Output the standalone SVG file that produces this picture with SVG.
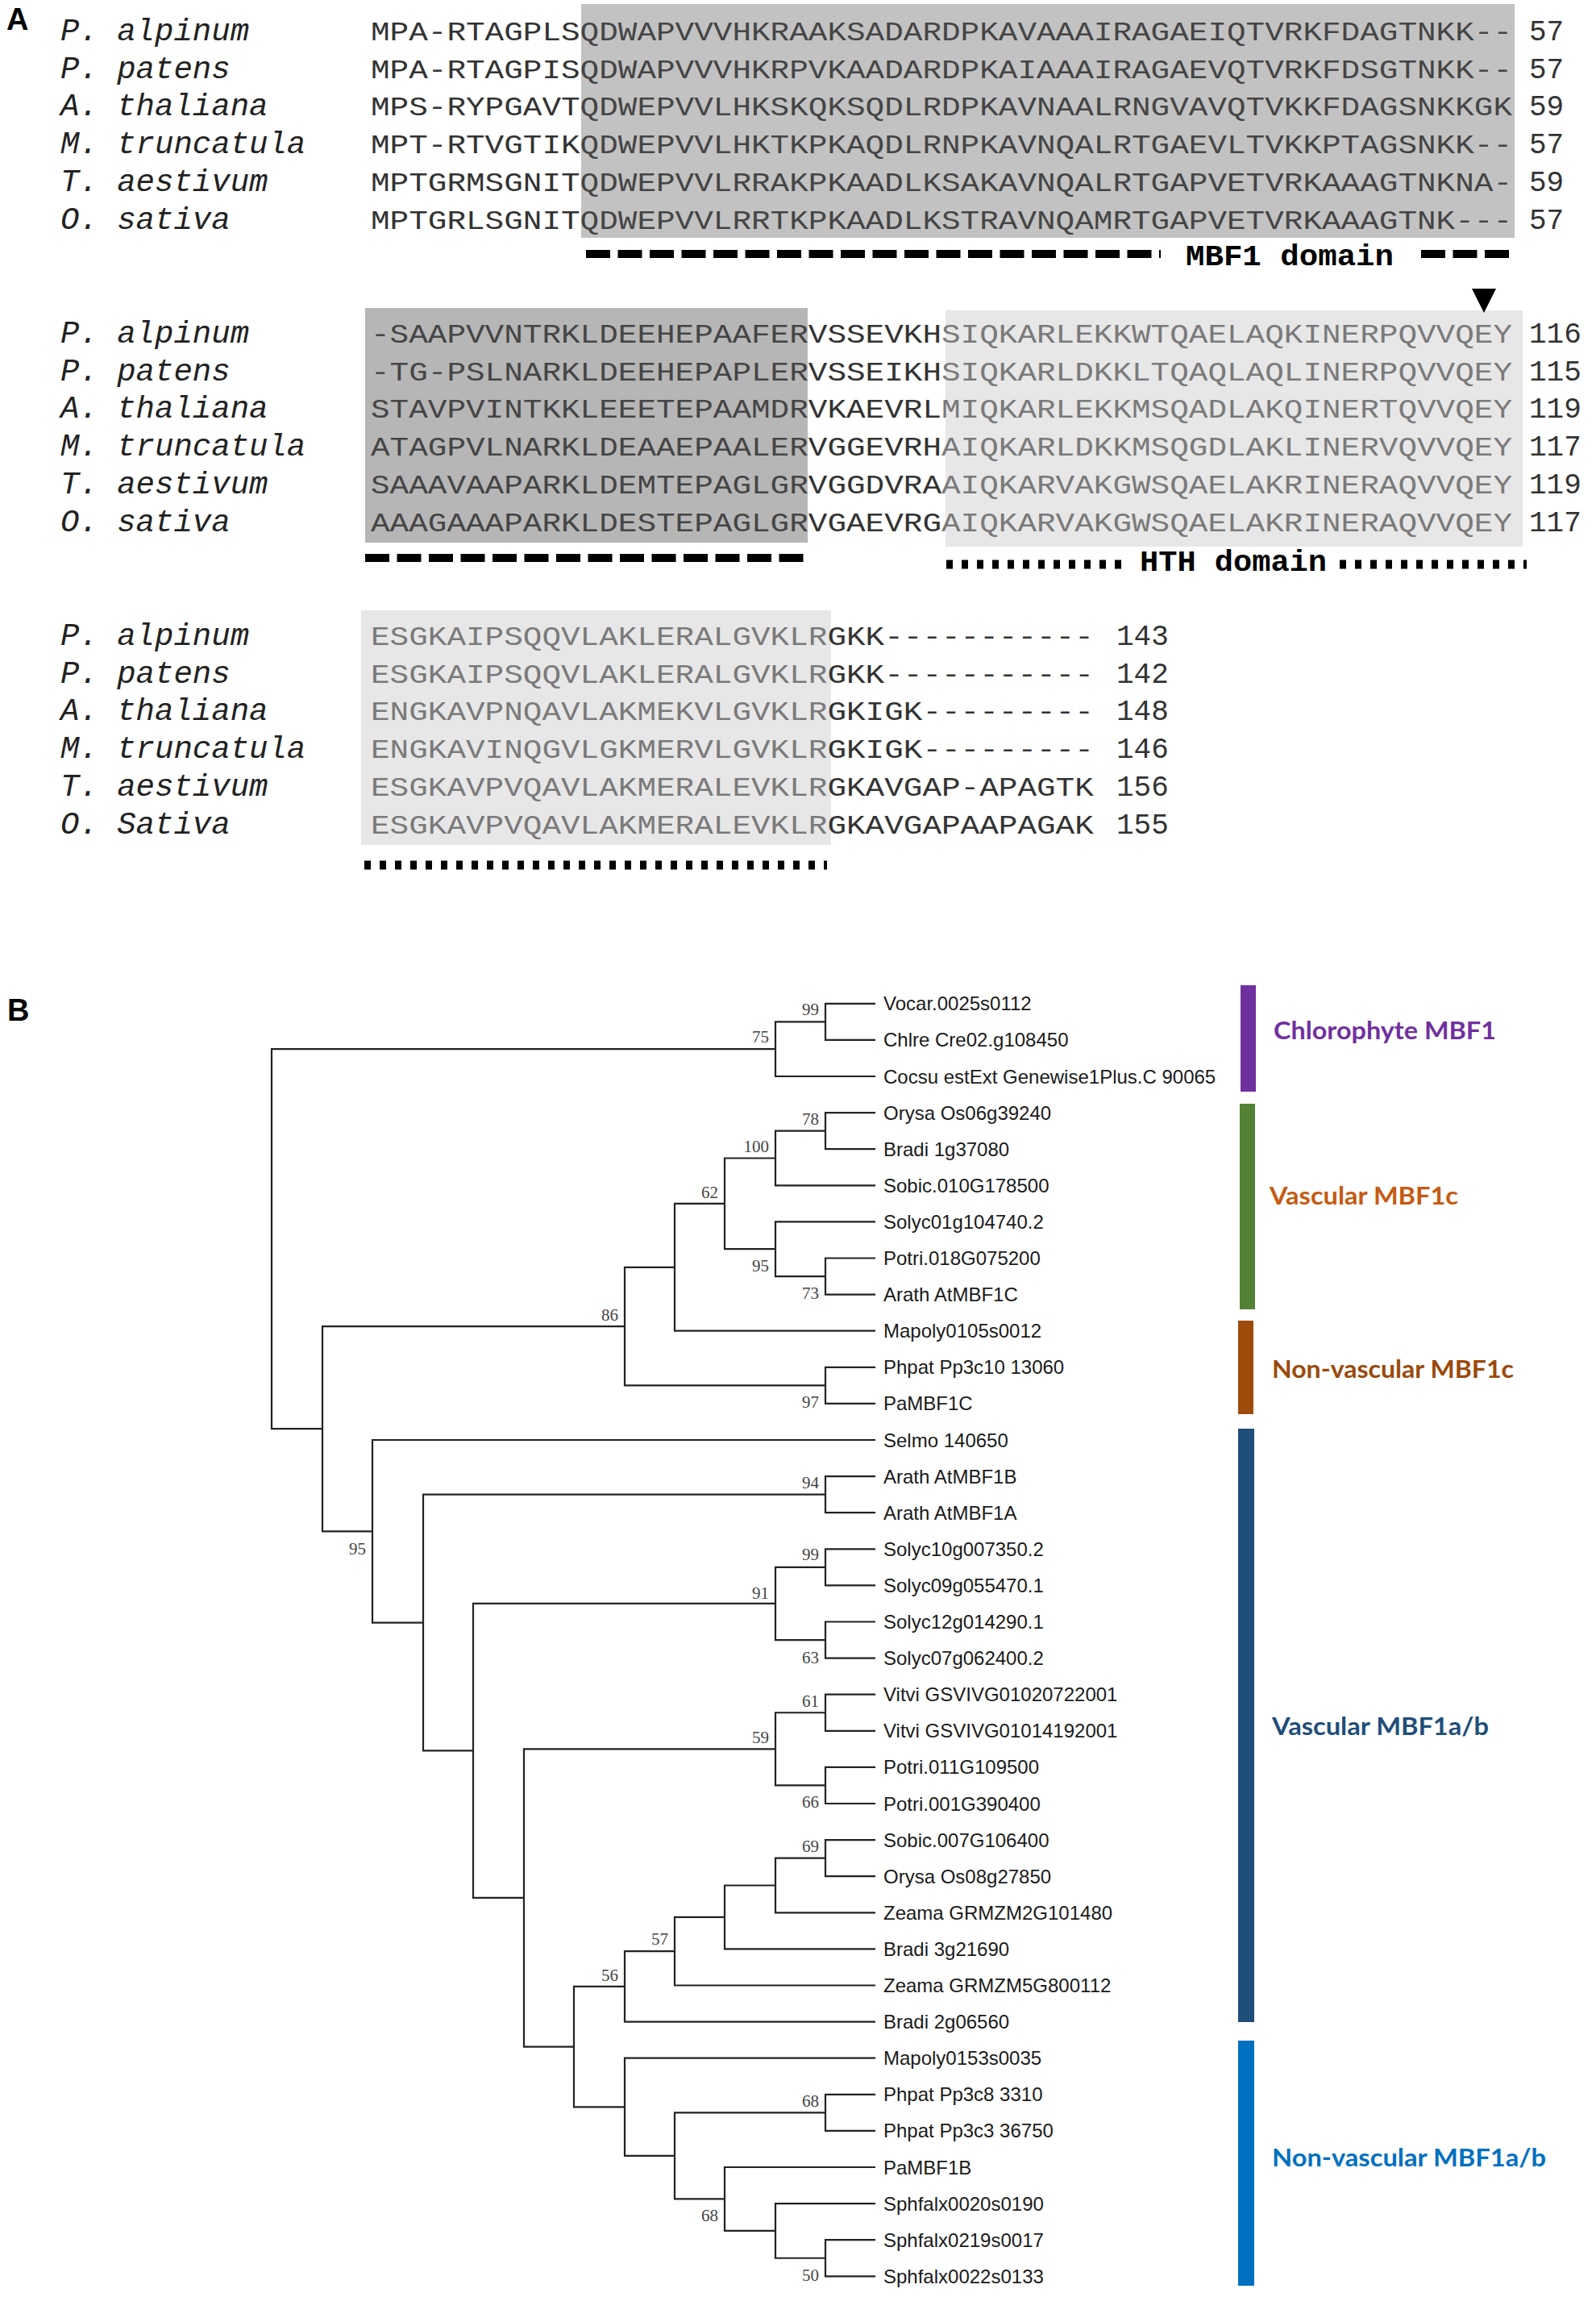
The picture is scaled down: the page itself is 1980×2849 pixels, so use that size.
<svg xmlns="http://www.w3.org/2000/svg" width="1980" height="2849" viewBox="0 0 1980 2849">
<style>
.lab{font-family:'Liberation Sans',Arial,sans-serif;font-weight:bold;font-size:38px;fill:#000}
.sp{font-family:'Liberation Mono','Courier New',monospace;font-style:italic;font-size:39px;fill:#222}
.seq{font-family:'Liberation Mono','Courier New',monospace;font-size:34px;fill:#333}
.num{font-family:'Liberation Mono','Courier New',monospace;font-size:36px;fill:#333}
.dom{font-family:'Liberation Mono','Courier New',monospace;font-weight:bold;font-size:36px;fill:#000}
.k{fill:#333}.m{fill:#454545}.lt{fill:#7a7a7a}
.thick{stroke:#000;stroke-width:10;stroke-dasharray:30 9.5;fill:none}
.dot{stroke:#000;stroke-width:11;stroke-dasharray:8 11;fill:none}
.leaf{font-family:'Liberation Sans',Arial,sans-serif;font-size:24px;fill:#1a1a1a}
.bs{font-family:'Liberation Serif','Times New Roman',serif;font-size:21px;fill:#444;text-anchor:end}
.clade{font-family:Lato,'Open Sans',sans-serif;font-weight:bold;font-size:30px}
.br{fill:none;stroke:#222;stroke-width:2.2}
</style>
<rect x="0" y="0" width="1980" height="2849" fill="#fff"/>

<g id="panelA">
<text class="lab" x="8" y="37">A</text>
<rect x="721" y="5" width="1158" height="290" fill="#c2c2c2"/>
<rect x="453" y="382" width="549" height="291" fill="#b6b6b6"/>
<rect x="1173" y="385" width="716" height="293" fill="#e7e7e7"/>
<rect x="448" y="757" width="583" height="291" fill="#e7e7e7"/>

<g id="block1">
<text class="sp" x="75" y="50">P. alpinum</text>
<text class="sp" x="75" y="96.7">P. patens</text>
<text class="sp" x="75" y="143.4">A. thaliana</text>
<text class="sp" x="75" y="190.1">M. truncatula</text>
<text class="sp" x="75" y="236.8">T. aestivum</text>
<text class="sp" x="75" y="283.5">O. sativa</text>
<text class="seq" x="460" y="50" textLength="1416" lengthAdjust="spacingAndGlyphs"><tspan class="k">MPA-RTAGPLS</tspan><tspan class="m">QDWAPVVVHKRAAKSADARDPKAVAAAIRAGAEIQTVRKFDAGTNKK--</tspan></text>
<text class="seq" x="460" y="96.7" textLength="1416" lengthAdjust="spacingAndGlyphs"><tspan class="k">MPA-RTAGPIS</tspan><tspan class="m">QDWAPVVVHKRPVKAADARDPKAIAAAIRAGAEVQTVRKFDSGTNKK--</tspan></text>
<text class="seq" x="460" y="143.4" textLength="1416" lengthAdjust="spacingAndGlyphs"><tspan class="k">MPS-RYPGAVT</tspan><tspan class="m">QDWEPVVLHKSKQKSQDLRDPKAVNAALRNGVAVQTVKKFDAGSNKKGK</tspan></text>
<text class="seq" x="460" y="190.1" textLength="1416" lengthAdjust="spacingAndGlyphs"><tspan class="k">MPT-RTVGTIK</tspan><tspan class="m">QDWEPVVLHKTKPKAQDLRNPKAVNQALRTGAEVLTVKKPTAGSNKK--</tspan></text>
<text class="seq" x="460" y="236.8" textLength="1416" lengthAdjust="spacingAndGlyphs"><tspan class="k">MPTGRMSGNIT</tspan><tspan class="m">QDWEPVVLRRAKPKAADLKSAKAVNQALRTGAPVETVRKAAAGTNKNA-</tspan></text>
<text class="seq" x="460" y="283.5" textLength="1416" lengthAdjust="spacingAndGlyphs"><tspan class="k">MPTGRLSGNIT</tspan><tspan class="m">QDWEPVVLRRTKPKAADLKSTRAVNQAMRTGAPVETVRKAAAGTNK---</tspan></text>
<text class="num" x="1897" y="50">57</text>
<text class="num" x="1897" y="96.7">57</text>
<text class="num" x="1897" y="143.4">59</text>
<text class="num" x="1897" y="190.1">57</text>
<text class="num" x="1897" y="236.8">59</text>
<text class="num" x="1897" y="283.5">57</text>
<line class="thick" x1="727" y1="315" x2="1440" y2="315"/>
<text class="dom" x="1471" y="329" textLength="258" lengthAdjust="spacingAndGlyphs">MBF1 domain</text>
<line class="thick" x1="1763" y1="315" x2="1875" y2="315"/>
</g>

<g id="block2">
<polygon points="1826,358 1856,358 1841,388" fill="#000"/>
<text class="sp" x="75" y="425">P. alpinum</text>
<text class="sp" x="75" y="471.7">P. patens</text>
<text class="sp" x="75" y="518.4">A. thaliana</text>
<text class="sp" x="75" y="565.1">M. truncatula</text>
<text class="sp" x="75" y="611.8">T. aestivum</text>
<text class="sp" x="75" y="658.5">O. sativa</text>
<text class="seq" x="460" y="425" textLength="1416" lengthAdjust="spacingAndGlyphs"><tspan class="m">-SAAPVVNTRKLDEEHEPAAFER</tspan><tspan class="k">VSSEVKH</tspan><tspan class="lt">SIQKARLEKKWTQAELAQKINERPQVVQEY</tspan></text>
<text class="seq" x="460" y="471.7" textLength="1416" lengthAdjust="spacingAndGlyphs"><tspan class="m">-TG-PSLNARKLDEEHEPAPLER</tspan><tspan class="k">VSSEIKH</tspan><tspan class="lt">SIQKARLDKKLTQAQLAQLINERPQVVQEY</tspan></text>
<text class="seq" x="460" y="518.4" textLength="1416" lengthAdjust="spacingAndGlyphs"><tspan class="m">STAVPVINTKKLEEETEPAAMDR</tspan><tspan class="k">VKAEVRL</tspan><tspan class="lt">MIQKARLEKKMSQADLAKQINERTQVVQEY</tspan></text>
<text class="seq" x="460" y="565.1" textLength="1416" lengthAdjust="spacingAndGlyphs"><tspan class="m">ATAGPVLNARKLDEAAEPAALER</tspan><tspan class="k">VGGEVRH</tspan><tspan class="lt">AIQKARLDKKMSQGDLAKLINERVQVVQEY</tspan></text>
<text class="seq" x="460" y="611.8" textLength="1416" lengthAdjust="spacingAndGlyphs"><tspan class="m">SAAAVAAPARKLDEMTEPAGLGR</tspan><tspan class="k">VGGDVRA</tspan><tspan class="lt">AIQKARVAKGWSQAELAKRINERAQVVQEY</tspan></text>
<text class="seq" x="460" y="658.5" textLength="1416" lengthAdjust="spacingAndGlyphs"><tspan class="m">AAAGAAAPARKLDESTEPAGLGR</tspan><tspan class="k">VGAEVRG</tspan><tspan class="lt">AIQKARVAKGWSQAELAKRINERAQVVQEY</tspan></text>
<text class="num" x="1897" y="425">116</text>
<text class="num" x="1897" y="471.7">115</text>
<text class="num" x="1897" y="518.4">119</text>
<text class="num" x="1897" y="565.1">117</text>
<text class="num" x="1897" y="611.8">119</text>
<text class="num" x="1897" y="658.5">117</text>
<line class="thick" x1="453" y1="692" x2="1004" y2="692"/>
<line class="dot" x1="1174" y1="700" x2="1392" y2="700"/>
<text class="dom" x="1414" y="708" textLength="232" lengthAdjust="spacingAndGlyphs">HTH domain</text>
<line class="dot" x1="1662" y1="700" x2="1894" y2="700"/>
</g>

<g id="block3">
<text class="sp" x="75" y="800">P. alpinum</text>
<text class="sp" x="75" y="846.7">P. patens</text>
<text class="sp" x="75" y="893.4">A. thaliana</text>
<text class="sp" x="75" y="940.1">M. truncatula</text>
<text class="sp" x="75" y="986.8">T. aestivum</text>
<text class="sp" x="75" y="1033.5">O. Sativa</text>
<text class="seq" x="460" y="800" textLength="896.8" lengthAdjust="spacingAndGlyphs"><tspan class="lt">ESGKAIPSQQVLAKLERALGVKLR</tspan><tspan class="k">GKK-----------</tspan></text>
<text class="seq" x="460" y="846.7" textLength="896.8" lengthAdjust="spacingAndGlyphs"><tspan class="lt">ESGKAIPSQQVLAKLERALGVKLR</tspan><tspan class="k">GKK-----------</tspan></text>
<text class="seq" x="460" y="893.4" textLength="896.8" lengthAdjust="spacingAndGlyphs"><tspan class="lt">ENGKAVPNQAVLAKMEKVLGVKLR</tspan><tspan class="k">GKIGK---------</tspan></text>
<text class="seq" x="460" y="940.1" textLength="896.8" lengthAdjust="spacingAndGlyphs"><tspan class="lt">ENGKAVINQGVLGKMERVLGVKLR</tspan><tspan class="k">GKIGK---------</tspan></text>
<text class="seq" x="460" y="986.8" textLength="896.8" lengthAdjust="spacingAndGlyphs"><tspan class="lt">ESGKAVPVQAVLAKMERALEVKLR</tspan><tspan class="k">GKAVGAP-APAGTK</tspan></text>
<text class="seq" x="460" y="1033.5" textLength="896.8" lengthAdjust="spacingAndGlyphs"><tspan class="lt">ESGKAVPVQAVLAKMERALEVKLR</tspan><tspan class="k">GKAVGAPAAPAGAK</tspan></text>
<text class="num" x="1385" y="800">143</text>
<text class="num" x="1385" y="846.7">142</text>
<text class="num" x="1385" y="893.4">148</text>
<text class="num" x="1385" y="940.1">146</text>
<text class="num" x="1385" y="986.8">156</text>
<text class="num" x="1385" y="1033.5">155</text>
<line class="dot" x1="452" y1="1073" x2="1026" y2="1073"/>
</g>
</g>

<g id="panelB">
<text class="lab" x="9" y="1266">B</text>

<g id="connectors">
<path class="br" d="M1086 1244.8H1024V1289.9H1086"/>
<path class="br" d="M1024 1267.35H962V1335H1086"/>
<path class="br" d="M1086 1380.1H1024V1425.2H1086"/>
<path class="br" d="M1024 1402.65H962V1470.3H1086"/>
<path class="br" d="M1086 1560.5H1024V1605.6H1086"/>
<path class="br" d="M1086 1515.4H962V1583.05H1024"/>
<path class="br" d="M962 1436.5H899V1549.2H962"/>
<path class="br" d="M899 1492.85H837V1650.7H1086"/>
<path class="br" d="M1086 1695.8H1024V1740.9H1086"/>
<path class="br" d="M837 1571.8H775V1718.35H1024"/>
<path class="br" d="M1086 1831.1H1024V1876.2H1086"/>
<path class="br" d="M1086 1921.3H1024V1966.4H1086"/>
<path class="br" d="M1086 2011.5H1024V2056.6H1086"/>
<path class="br" d="M1024 1943.85H962V2034.05H1024"/>
<path class="br" d="M1086 2101.7H1024V2146.8H1086"/>
<path class="br" d="M1086 2191.9H1024V2237H1086"/>
<path class="br" d="M1024 2124.25H962V2214.45H1024"/>
<path class="br" d="M1086 2282.1H1024V2327.2H1086"/>
<path class="br" d="M1024 2304.65H962V2372.3H1086"/>
<path class="br" d="M962 2338.5H899V2417.4H1086"/>
<path class="br" d="M899 2377.95H837V2462.5H1086"/>
<path class="br" d="M837 2420.2H775V2507.6H1086"/>
<path class="br" d="M1086 2597.8H1024V2642.9H1086"/>
<path class="br" d="M1086 2778.2H1024V2823.3H1086"/>
<path class="br" d="M1086 2733.1H962V2800.75H1024"/>
<path class="br" d="M1086 2688H899V2766.9H962"/>
<path class="br" d="M1024 2620.35H837V2727.45H899"/>
<path class="br" d="M1086 2552.7H775V2673.9H837"/>
<path class="br" d="M775 2463.9H712V2613.3H775"/>
<path class="br" d="M962 2169.35H650V2538.6H712"/>
<path class="br" d="M962 1988.95H587V2353.95H650"/>
<path class="br" d="M1024 1853.65H525V2171.45H587"/>
<path class="br" d="M1086 1786H462V2012.55H525"/>
<path class="br" d="M775 1645.1H400V1899.3H462"/>
<path class="br" d="M962 1301.2H337V1772.2H400"/>
</g>

<g id="bootstrap">
<text class="bs" x="1016" y="1259">99</text>
<text class="bs" x="954" y="1293">75</text>
<text class="bs" x="1016" y="1395">78</text>
<text class="bs" x="954" y="1429">100</text>
<text class="bs" x="891" y="1486">62</text>
<text class="bs" x="954" y="1577">95</text>
<text class="bs" x="1016" y="1611">73</text>
<text class="bs" x="767" y="1638">86</text>
<text class="bs" x="1016" y="1746">97</text>
<text class="bs" x="1016" y="1846">94</text>
<text class="bs" x="454" y="1928">95</text>
<text class="bs" x="1016" y="1935">99</text>
<text class="bs" x="954" y="1983">91</text>
<text class="bs" x="1016" y="2063">63</text>
<text class="bs" x="1016" y="2117">61</text>
<text class="bs" x="954" y="2162">59</text>
<text class="bs" x="1016" y="2242">66</text>
<text class="bs" x="1016" y="2297">69</text>
<text class="bs" x="829" y="2412">57</text>
<text class="bs" x="767" y="2457">56</text>
<text class="bs" x="1016" y="2613">68</text>
<text class="bs" x="891" y="2755">68</text>
<text class="bs" x="1016" y="2829">50</text>
</g>

<g id="leaves">
<g id="leaf0"><text class="leaf" x="1096" y="1253.3">Vocar.0025s0112</text></g>
<g id="leaf1"><text class="leaf" x="1096" y="1298.4">Chlre Cre02.g108450</text></g>
<g id="leaf2"><text class="leaf" x="1096" y="1343.5">Cocsu estExt Genewise1Plus.C 90065</text></g>
<g id="leaf3"><text class="leaf" x="1096" y="1388.6">Orysa Os06g39240</text></g>
<g id="leaf4"><text class="leaf" x="1096" y="1433.7">Bradi 1g37080</text></g>
<g id="leaf5"><text class="leaf" x="1096" y="1478.8">Sobic.010G178500</text></g>
<g id="leaf6"><text class="leaf" x="1096" y="1523.9">Solyc01g104740.2</text></g>
<g id="leaf7"><text class="leaf" x="1096" y="1569">Potri.018G075200</text></g>
<g id="leaf8"><text class="leaf" x="1096" y="1614.1">Arath AtMBF1C</text></g>
<g id="leaf9"><text class="leaf" x="1096" y="1659.2">Mapoly0105s0012</text></g>
<g id="leaf10"><text class="leaf" x="1096" y="1704.3">Phpat Pp3c10 13060</text></g>
<g id="leaf11"><text class="leaf" x="1096" y="1749.4">PaMBF1C</text></g>
<g id="leaf12"><text class="leaf" x="1096" y="1794.5">Selmo 140650</text></g>
<g id="leaf13"><text class="leaf" x="1096" y="1839.6">Arath AtMBF1B</text></g>
<g id="leaf14"><text class="leaf" x="1096" y="1884.7">Arath AtMBF1A</text></g>
<g id="leaf15"><text class="leaf" x="1096" y="1929.8">Solyc10g007350.2</text></g>
<g id="leaf16"><text class="leaf" x="1096" y="1974.9">Solyc09g055470.1</text></g>
<g id="leaf17"><text class="leaf" x="1096" y="2020">Solyc12g014290.1</text></g>
<g id="leaf18"><text class="leaf" x="1096" y="2065.1">Solyc07g062400.2</text></g>
<g id="leaf19"><text class="leaf" x="1096" y="2110.2">Vitvi GSVIVG01020722001</text></g>
<g id="leaf20"><text class="leaf" x="1096" y="2155.3">Vitvi GSVIVG01014192001</text></g>
<g id="leaf21"><text class="leaf" x="1096" y="2200.4">Potri.011G109500</text></g>
<g id="leaf22"><text class="leaf" x="1096" y="2245.5">Potri.001G390400</text></g>
<g id="leaf23"><text class="leaf" x="1096" y="2290.6">Sobic.007G106400</text></g>
<g id="leaf24"><text class="leaf" x="1096" y="2335.7">Orysa Os08g27850</text></g>
<g id="leaf25"><text class="leaf" x="1096" y="2380.8">Zeama GRMZM2G101480</text></g>
<g id="leaf26"><text class="leaf" x="1096" y="2425.9">Bradi 3g21690</text></g>
<g id="leaf27"><text class="leaf" x="1096" y="2471">Zeama GRMZM5G800112</text></g>
<g id="leaf28"><text class="leaf" x="1096" y="2516.1">Bradi 2g06560</text></g>
<g id="leaf29"><text class="leaf" x="1096" y="2561.2">Mapoly0153s0035</text></g>
<g id="leaf30"><text class="leaf" x="1096" y="2606.3">Phpat Pp3c8 3310</text></g>
<g id="leaf31"><text class="leaf" x="1096" y="2651.4">Phpat Pp3c3 36750</text></g>
<g id="leaf32"><text class="leaf" x="1096" y="2696.5">PaMBF1B</text></g>
<g id="leaf33"><text class="leaf" x="1096" y="2741.6">Sphfalx0020s0190</text></g>
<g id="leaf34"><text class="leaf" x="1096" y="2786.7">Sphfalx0219s0017</text></g>
<g id="leaf35"><text class="leaf" x="1096" y="2831.8">Sphfalx0022s0133</text></g>
</g>

<g id="clades">
<g id="clade-chlorophyte"><rect x="1539" y="1222" width="19" height="132" fill="#7030a0"/><text class="clade" x="1580" y="1289" fill="#7030a0" textLength="276" lengthAdjust="spacingAndGlyphs">Chlorophyte MBF1</text></g>
<g id="clade-vasc-c"><rect x="1538" y="1369" width="19" height="255" fill="#548235"/><text class="clade" x="1575" y="1494" fill="#c55a11" textLength="234" lengthAdjust="spacingAndGlyphs">Vascular MBF1c</text></g>
<g id="clade-nonvasc-c"><rect x="1536" y="1638" width="19" height="116" fill="#9e4c0c"/><text class="clade" x="1578" y="1709" fill="#9a4a0b" textLength="300" lengthAdjust="spacingAndGlyphs">Non-vascular MBF1c</text></g>
<g id="clade-vasc-ab"><rect x="1536" y="1772" width="20" height="736" fill="#1f4e79"/><text class="clade" x="1578" y="2152" fill="#1f4e79" textLength="269" lengthAdjust="spacingAndGlyphs">Vascular MBF1a/b</text></g>
<g id="clade-nonvasc-ab"><rect x="1536" y="2531" width="20" height="304" fill="#0070c0"/><text class="clade" x="1578" y="2687" fill="#0070c0" textLength="340" lengthAdjust="spacingAndGlyphs">Non-vascular MBF1a/b</text></g>
</g>
</g>
</svg>
